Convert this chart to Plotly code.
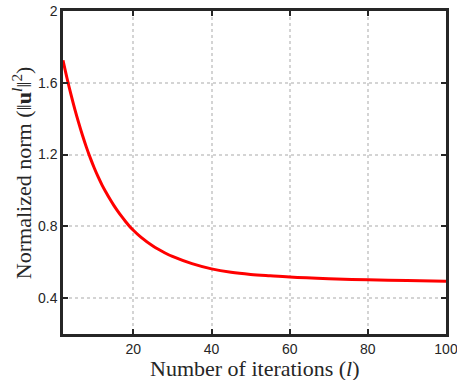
import plotly.graph_objects as go

# Data
iterations = [2, 3, 4, 5, 6, 7, 8, 9, 10, 11, 12, 13, 14, 15, 16, 17, 18, 19, 20,
              22, 25, 28, 30, 35, 40, 45, 50, 55, 60, 70, 80, 90, 100]
norm_values = [1.725, 1.628, 1.538, 1.455, 1.378, 1.306, 1.240, 1.180, 1.125,
               1.075, 1.030, 0.990, 0.952, 0.917, 0.885, 0.855, 0.827, 0.801, 0.778,
               0.738, 0.690, 0.653, 0.632, 0.592, 0.563, 0.544, 0.532, 0.524,
               0.517, 0.508, 0.502, 0.498, 0.494]

x_tick_vals = [20, 40, 60, 80, 100]
x_tick_text = ["20", "40", "60", "80", "100"]
y_tick_vals = [0.4, 0.8, 1.2, 1.6, 2.0]
y_tick_text = ["0.4", "0.8", "1.2", "1.6", "2"]

x_title = "Number of iterations (<i>l</i>)"
y_title = "Normalized norm (‖<b>u</b><sup><i>l</i></sup>‖<sup>2</sup>)"

axis_color = "#262626"
grid_color = "#d4d4d4"
title_font = dict(family="Liberation Serif, Times New Roman, serif", size=22, color=axis_color)

fig = go.Figure()
fig.add_trace(go.Scatter(
    x=iterations, y=norm_values, mode="lines",
    line=dict(color="#ff0000", width=3, shape="spline", smoothing=1.0),
    showlegend=False, hoverinfo="skip",
))

common_axis = dict(
    showline=True, linewidth=2.5, linecolor=axis_color, mirror="ticks",
    ticks="inside", ticklen=5, tickwidth=2, tickcolor=axis_color,
    showgrid=True, gridcolor=grid_color, gridwidth=2, griddash="dot",
    zeroline=False, automargin=False, ticklabeloverflow="allow",
    tickfont=dict(family="Liberation Sans, Arial, sans-serif", size=14, color=axis_color),
)

fig.update_xaxes(range=[2, 100], tickmode="array", tickvals=x_tick_vals,
                 ticktext=x_tick_text, **common_axis)
fig.update_yaxes(range=[0.2, 2.0], tickmode="array", tickvals=y_tick_vals,
                 ticktext=y_tick_text, **common_axis)

fig.add_annotation(text=x_title, xref="paper", yref="paper", x=0.5, y=-0.062,
                   xanchor="center", yanchor="top", showarrow=False, font=title_font)
fig.add_annotation(text=y_title, xref="paper", yref="paper", x=-0.108, y=0.5,
                   xanchor="center", yanchor="middle", textangle=-90,
                   showarrow=False, font=title_font)

fig.update_layout(
    width=457, height=380,
    margin=dict(l=63, r=11, t=11, b=46),
    paper_bgcolor="white", plot_bgcolor="white",
)

fig.write_html(
    "out.html",
    config={"displayModeBar": False},
    post_script="document.body.style.margin='0';document.body.style.overflow='hidden';",
)
